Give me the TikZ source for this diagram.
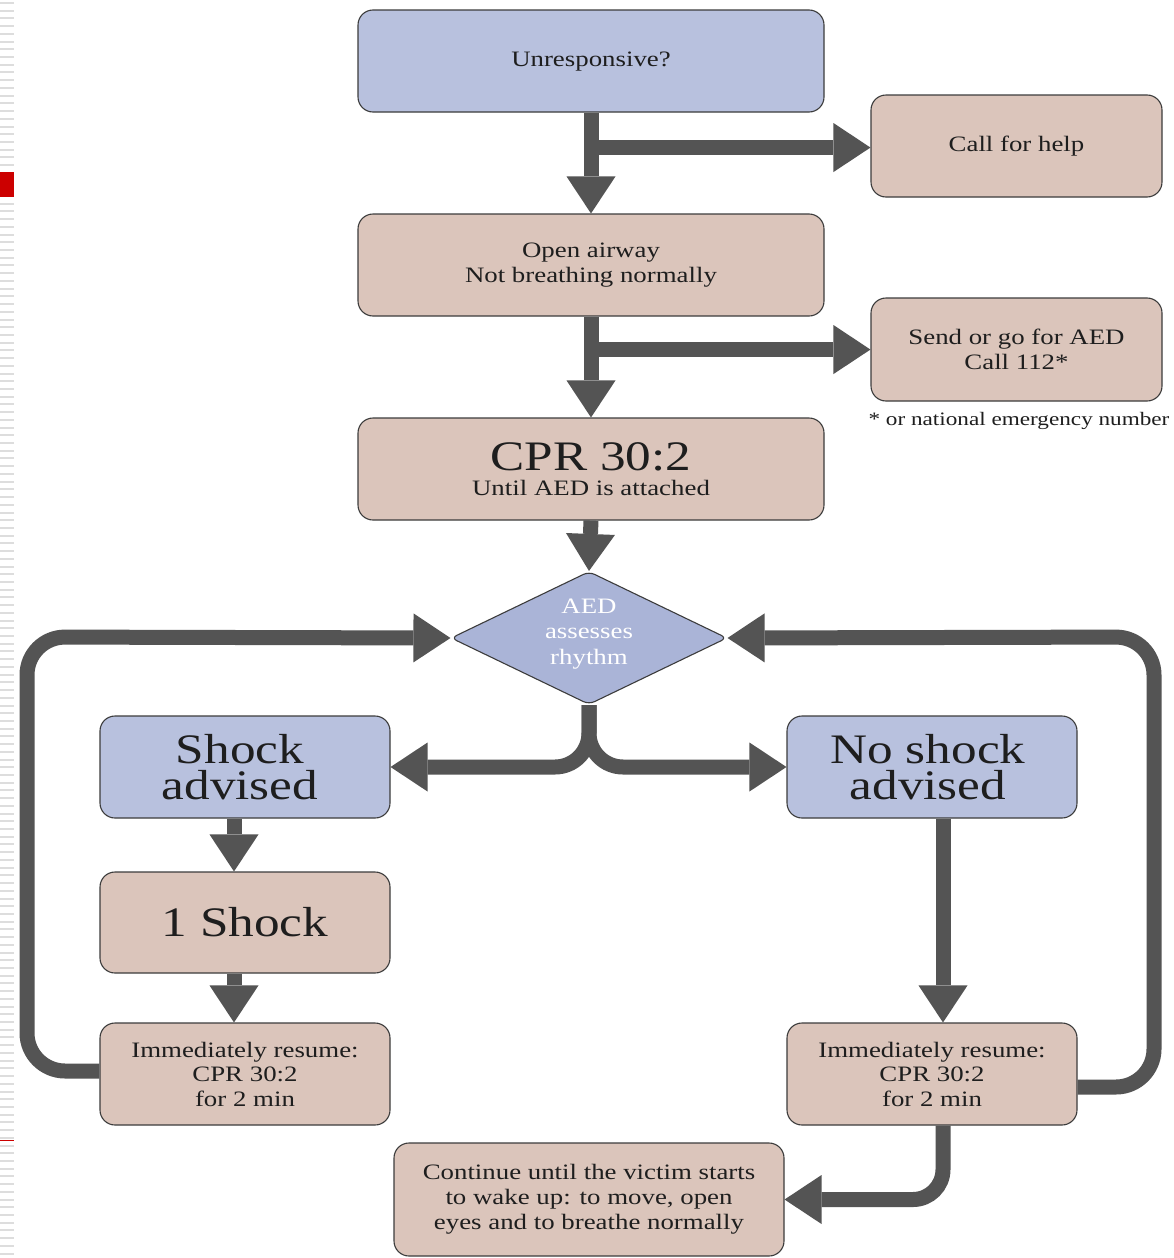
\documentclass[tikz,border=0pt]{standalone}
\usepackage{fontspec}
\setmainfont{Liberation Serif}[FakeStretch=1.22]
\usetikzlibrary{shapes.geometric,arrows.meta,calc}
\definecolor{boxblue}{HTML}{B8C1DE}
\definecolor{diablue}{HTML}{AAB4D7}
\definecolor{boxtan}{HTML}{DBC5BB}
\definecolor{flowgrey}{HTML}{545454}
\definecolor{edgegrey}{HTML}{3C3C3C}
\definecolor{inkdark}{HTML}{1E1E1E}
\definecolor{stripegrey}{HTML}{DDDDDD}
\definecolor{slidered}{HTML}{CC0000}
\tikzset{
  card/.style={draw=edgegrey, line width=1.1pt, rounded corners=15pt,
    minimum height=102pt, inner sep=0pt, align=center, text=inkdark,
    font=\fontsize{22}{25}\selectfont},
  bluecard/.style={card, fill=boxblue},
  tancard/.style={card, fill=boxtan},
  bigtext/.style={font=\fontsize{42}{36}\selectfont},
  flow/.style={draw=flowgrey, line width=15pt,
    -{Triangle[length=37pt,width=49pt,line width=0pt]}},
  loopflow/.style={flow, rounded corners=38pt},
}
\begin{document}
\begin{tikzpicture}[x=1pt,y=-1pt]
  \useasboundingbox (0,0) rectangle (1174,1258);
  \fill[white] (0,0) rectangle (1174,1258);

  % slide margin decoration
  \foreach \k in {0,...,162}
    \fill[stripegrey] (0,{2+7.72*\k}) rectangle (14,{4+7.72*\k});
  \fill[slidered] (0,172) rectangle (14,197);
  \fill[slidered] (0,1139.5) rectangle (14,1141);

  % steps
  \node[bluecard, minimum width=466pt] (unresp) at (591,61) {\strut Unresponsive?};
  \node[tancard, minimum width=291pt] (help) at (1016.5,146) {Call for help};
  \node[tancard, minimum width=466pt] (airway) at (591,265) {Open airway\\Not breathing normally};
  \node[tancard, minimum width=291pt, minimum height=103pt] (aed) at (1016.5,349.5) {Send or go for AED\\Call 112*};
  \node[text=inkdark, inner sep=0pt, font=\fontsize{19}{22}\selectfont] (note) at (1019,421) {* or national emergency number};
  \node[tancard, minimum width=466pt] (cpr) at (591,469)
    {\fontsize{42}{42}\selectfont CPR 30:2\\\fontsize{22}{25}\selectfont Until AED is attached};

  \node[diamond, draw=edgegrey, line width=1.1pt, fill=diablue, minimum width=276pt,
    minimum height=133pt, inner sep=0pt, rounded corners=6pt] (dia) at (589,638) {};
  \node[text=white, align=center, inner sep=0pt, font=\fontsize{22}{25.5}\selectfont] (diatext) at (589,634) {AED\\assesses\\rhythm};

  \node[bluecard, bigtext, minimum width=290pt] (shock) at (245,767) {Shock\hspace*{10pt}\\advised\hspace*{10pt}};
  \node[tancard, bigtext, minimum width=290pt, minimum height=101pt] (oneshock) at (245,922.5) {1 Shock};
  \node[tancard, minimum width=290pt, font=\fontsize{22}{24.5}\selectfont] (resL) at (245,1074) {Immediately resume:\\CPR 30:2\\for 2 min};

  \node[bluecard, bigtext, minimum width=290pt] (noshock) at (932,767) {No shock\hspace*{8pt}\\advised\hspace*{8pt}};
  \node[tancard, minimum width=290pt, font=\fontsize{22}{24.5}\selectfont] (resR) at (932,1074) {Immediately resume:\\CPR 30:2\\for 2 min};

  \node[tancard, minimum width=390pt, minimum height=113pt] (cont) at (589,1199.5)
    {Continue until the victim starts\\to wake up: to move, open\\eyes and to breathe normally};

  % loop corners
  \coordinate (loopL) at (27,637);
  \coordinate (loopR) at (1154,637);

  % connectors
  \draw[flow] (unresp.south) -- (airway.north);
  \path (unresp.south) ++(0,35) coordinate (forkA);
  \draw[flow] (forkA) -- (forkA -| help.west);

  \draw[flow] (airway.south) -- (cpr.north);
  \path (airway.south) ++(0,33) coordinate (forkB);
  \draw[flow] (forkB) -- (forkB -| aed.west);

  \draw[flow] (cpr.south) -- (dia.north);
  \draw[flow, rounded corners=34pt] (dia.south) |- (shock.east);
  \draw[flow, rounded corners=34pt] (dia.south) |- (noshock.west);

  \draw[flow] ([xshift=-11pt]shock.south) -- ([xshift=-11pt]oneshock.north);
  \draw[flow] ([xshift=-11pt]oneshock.south) -- ([xshift=-11pt]resL.north);
  \draw[flow] ([xshift=11pt]noshock.south) -- ([xshift=11pt]resR.north);

  \draw[loopflow] ([yshift=3pt]resL.west) -| (loopL) -- (dia.west);
  \draw[loopflow] ([yshift=-13pt]resR.east) -| (loopR) -- (dia.east);
  \draw[flow, rounded corners=30pt] ([xshift=11pt]resR.south) |- (cont.east);
\end{tikzpicture}
\end{document}
